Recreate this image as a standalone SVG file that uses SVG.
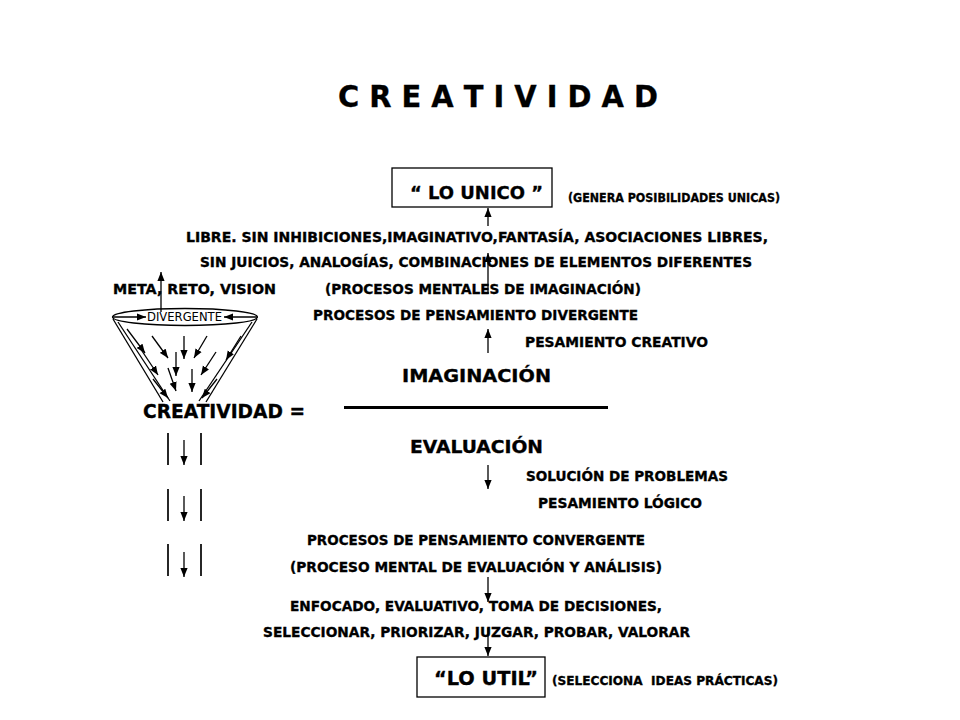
<svg xmlns="http://www.w3.org/2000/svg" width="960" height="720" viewBox="0 0 960 720">
<style>
.t{font-family:"DejaVu Sans","Liberation Sans",sans-serif;font-weight:bold;fill:#000;stroke:#000;stroke-width:0.35}
.b{font-size:14.5px}
.s{font-size:12.5px}
.m{font-size:18px}
.r{font-family:"DejaVu Sans","Liberation Sans",sans-serif;font-size:11.5px;fill:#000}
.ln{stroke:#000;stroke-width:1.3;fill:none}
.bar{stroke:#000;stroke-width:1.7}
.box{fill:#fff;stroke:#000;stroke-width:1.3}
</style>
<defs>
<marker id="ah" viewBox="0 0 10 8" refX="10" refY="4" markerWidth="9" markerHeight="8" markerUnits="userSpaceOnUse" orient="auto">
<path d="M0,0 L10,4 L0,8 z" fill="#000"/>
</marker>
</defs>
<rect width="960" height="720" fill="#fff"/>

<g id="title"><text class="t" x="338" y="107" font-size="31" textLength="320" lengthAdjust="spacingAndGlyphs">C R E A T I V I D A D</text></g>

<g id="lo-unico">
<rect class="box" x="392" y="168" width="160" height="39"/>
<text class="t" x="410" y="199" font-size="18" textLength="133" lengthAdjust="spacingAndGlyphs">“ LO UNICO ”</text>
</g>
<g id="genera"><text class="t s" x="568" y="202" textLength="212" lengthAdjust="spacingAndGlyphs">(GENERA POSIBILIDADES UNICAS)</text></g>

<g id="divergent-text">
<text class="t b" x="186" y="242" textLength="582" lengthAdjust="spacingAndGlyphs">LIBRE. SIN INHIBICIONES,IMAGINATIVO,FANTASÍA, ASOCIACIONES LIBRES,</text>
<text class="t b" x="200" y="267" textLength="552" lengthAdjust="spacingAndGlyphs">SIN JUICIOS, ANALOGÍAS, COMBINACIONES DE ELEMENTOS DIFERENTES</text>
<text class="t b" x="113" y="294" textLength="163" lengthAdjust="spacingAndGlyphs">META,  RETO,  VISION</text>
<text class="t b" x="325" y="294" textLength="316" lengthAdjust="spacingAndGlyphs">(PROCESOS MENTALES DE IMAGINACIÓN)</text>
<text class="t b" x="313" y="320" textLength="325" lengthAdjust="spacingAndGlyphs">PROCESOS DE PENSAMIENTO DIVERGENTE</text>
<text class="t b" x="525" y="347" textLength="183" lengthAdjust="spacingAndGlyphs">PESAMIENTO CREATIVO</text>
</g>

<g id="funnel">
<ellipse cx="185" cy="317" rx="72.5" ry="8.5" class="ln"/>
<text class="r" x="147" y="321" textLength="75" lengthAdjust="spacingAndGlyphs">DIVERGENTE</text>
<line class="ln" x1="113" y1="319" x2="163" y2="402"/>
<line class="ln" x1="118" y1="322" x2="170" y2="401"/>
<line class="ln" x1="257" y1="319" x2="206" y2="402"/>
<line class="ln" x1="252" y1="322" x2="199" y2="401"/>
</g>

<g id="formula">
<text class="t m" x="402" y="382" textLength="149" lengthAdjust="spacingAndGlyphs">IMAGINACIÓN</text>
<text class="t" x="143" y="418" font-size="19.5" textLength="162" lengthAdjust="spacingAndGlyphs">CREATIVIDAD =</text>
<rect x="344" y="406" width="264" height="3" fill="#000"/>
<text class="t m" x="410" y="453" textLength="133" lengthAdjust="spacingAndGlyphs">EVALUACIÓN</text>
</g>

<g id="convergent-text">
<text class="t b" x="526" y="481" textLength="202" lengthAdjust="spacingAndGlyphs">SOLUCIÓN DE PROBLEMAS</text>
<text class="t b" x="538" y="508" textLength="164" lengthAdjust="spacingAndGlyphs">PESAMIENTO LÓGICO</text>
<text class="t b" x="307" y="545" textLength="338" lengthAdjust="spacingAndGlyphs">PROCESOS DE PENSAMIENTO CONVERGENTE</text>
<text class="t b" x="290" y="572" textLength="372" lengthAdjust="spacingAndGlyphs">(PROCESO MENTAL DE EVALUACIÓN Y ANÁLISIS)</text>
<text class="t b" x="290" y="611" textLength="372" lengthAdjust="spacingAndGlyphs">ENFOCADO, EVALUATIVO, TOMA DE DECISIONES,</text>
<text class="t b" x="263" y="637" textLength="427" lengthAdjust="spacingAndGlyphs">SELECCIONAR, PRIORIZAR, JUZGAR, PROBAR, VALORAR</text>
</g>

<g id="lo-util">
<rect class="box" x="417" y="657" width="128" height="40"/>
<text class="t" x="434" y="685" font-size="19" textLength="104" lengthAdjust="spacingAndGlyphs">“LO UTIL”</text>
</g>
<g id="selecciona"><text class="t s" x="552" y="685" textLength="226" lengthAdjust="spacingAndGlyphs">(SELECCIONA&#160; IDEAS PRÁCTICAS)</text></g>

<g id="bars">
<line class="bar" x1="168" y1="433" x2="168" y2="465"/>
<line class="bar" x1="201" y1="433" x2="201" y2="465"/>
<line class="bar" x1="168" y1="489" x2="168" y2="521"/>
<line class="bar" x1="201" y1="489" x2="201" y2="521"/>
<line class="bar" x1="168" y1="544" x2="168" y2="576"/>
<line class="bar" x1="201" y1="544" x2="201" y2="576"/>
</g>

<g id="connectors">
<line class="ln" x1="488" y1="226" x2="488" y2="208" marker-end="url(#ah)"/>
<line class="ln" x1="488" y1="294" x2="488" y2="253" marker-end="url(#ah)"/>
<line class="ln" x1="488" y1="353" x2="488" y2="329" marker-end="url(#ah)"/>
<line class="ln" x1="161" y1="312" x2="161" y2="272" marker-end="url(#ah)"/>
<line class="ln" x1="488" y1="465" x2="488" y2="489" marker-end="url(#ah)"/>
<line class="ln" x1="488" y1="577" x2="488" y2="602" marker-end="url(#ah)"/>
<line class="ln" x1="488" y1="628" x2="488" y2="656" marker-end="url(#ah)"/>
<line class="ln" x1="113" y1="317" x2="146" y2="317" marker-end="url(#ah)"/>
<line class="ln" x1="257" y1="317" x2="224" y2="317" marker-end="url(#ah)"/>
<line class="ln" x1="127" y1="329" x2="145" y2="353" marker-end="url(#ah)"/>
<line class="ln" x1="152" y1="336" x2="168" y2="358" marker-end="url(#ah)"/>
<line class="ln" x1="184" y1="336" x2="184" y2="359" marker-end="url(#ah)"/>
<line class="ln" x1="207" y1="336" x2="194" y2="358" marker-end="url(#ah)"/>
<line class="ln" x1="241" y1="336" x2="226" y2="360" marker-end="url(#ah)"/>
<line class="ln" x1="140" y1="348" x2="158" y2="375" marker-end="url(#ah)"/>
<line class="ln" x1="176" y1="352" x2="176" y2="376" marker-end="url(#ah)"/>
<line class="ln" x1="216" y1="352" x2="201" y2="375" marker-end="url(#ah)"/>
<line class="ln" x1="168" y1="368" x2="176" y2="391" marker-end="url(#ah)"/>
<line class="ln" x1="192" y1="369" x2="192" y2="392" marker-end="url(#ah)"/>
<line class="ln" x1="153" y1="379" x2="168" y2="398" marker-end="url(#ah)"/>
<line class="ln" x1="217" y1="379" x2="202" y2="398" marker-end="url(#ah)"/>
<line class="ln" x1="184" y1="440" x2="184" y2="465" marker-end="url(#ah)"/>
<line class="ln" x1="184" y1="496" x2="184" y2="521" marker-end="url(#ah)"/>
<line class="ln" x1="184" y1="552" x2="184" y2="577" marker-end="url(#ah)"/>
</g>
</svg>
